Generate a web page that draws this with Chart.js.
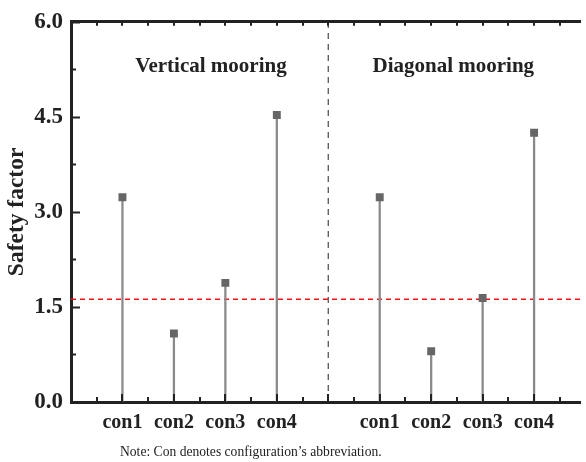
<!DOCTYPE html>
<html>
<head>
<meta charset="utf-8">
<script src="https://cdn.jsdelivr.net/npm/chart.js@4.4.1/dist/chart.umd.min.js"></script>
<style>
  html, body { margin: 0; padding: 0; background: #fff; }
  #wrap { width: 586px; height: 462px; }
</style>
</head>
<body>
<div id="wrap"><canvas id="sfChart" width="586" height="462"></canvas></div>
<script>
// configurations and their slot on the x axis
var configs = ['con1', 'con2', 'con3', 'con4'];
var verticalX = [1, 2, 3, 4];
var diagonalX = [6, 7, 8, 9];
// safety factor per configuration
var verticalSF = [3.23, 1.08, 1.88, 4.53];
var diagonalSF = [3.23, 0.80, 1.64, 4.25];
var threshold = 1.62;
var dividerX = 5;
var groupNames = ['Vertical mooring', 'Diagonal mooring'];
var note = 'Note: Con denotes configuration\u2019s abbreviation.';

var serif = "'Liberation Serif', 'Times New Roman', serif";
var ink = '#222';

var points = [];
var tickNames = {};
for (var i = 0; i < configs.length; i++) {
    points.push({x: verticalX[i], y: verticalSF[i]});
    tickNames[verticalX[i]] = configs[i];
}
for (var j = 0; j < configs.length; j++) {
    points.push({x: diagonalX[j], y: diagonalSF[j]});
    tickNames[diagonalX[j]] = configs[j];
}
var labelSlots = verticalX.concat(diagonalX);

// inner tick marks, group captions and the note under the axis
var decorations = {
    id: 'decorations',
    afterDraw: function(chart) {
        var ctx = chart.ctx;
        var x = chart.scales.x, y = chart.scales.y;
        var area = chart.chartArea;
        ctx.save();
        ctx.strokeStyle = ink;
        ctx.lineWidth = 2;
        ctx.beginPath();
        for (var v = 0; v <= 6.001; v += 0.75) {
            var py = Math.round(y.getPixelForValue(v)) + 0.5;
            var len = (Math.abs(v / 1.5 - Math.round(v / 1.5)) < 1e-6) ? 9 : 5;
            ctx.moveTo(area.left, py);
            ctx.lineTo(area.left + len, py);
        }
        for (var u = 0.5; u <= x.max; u += 0.5) {
            var px = Math.round(x.getPixelForValue(u));
            var l = (u % 1 === 0) ? 8 : 5;
            ctx.moveTo(px, area.bottom);
            ctx.lineTo(px, area.bottom - l);
            ctx.moveTo(px, area.top);
            ctx.lineTo(px, area.top + 4);
        }
        ctx.stroke();

        ctx.fillStyle = ink;
        ctx.textAlign = 'center';
        ctx.textBaseline = 'middle';
        ctx.font = 'bold 21px ' + serif;
        ctx.fillText(groupNames[0], x.getPixelForValue(2.72), y.getPixelForValue(5.3));
        ctx.fillText(groupNames[1], x.getPixelForValue(7.43), y.getPixelForValue(5.3));

        ctx.textAlign = 'left';
        ctx.font = '13.6px ' + serif;
        ctx.fillText(note, 120, 452);
        ctx.restore();
    }
};

var ctx = document.getElementById('sfChart').getContext('2d');
var chart = new Chart(ctx, {
    data: {
        datasets: [{
            // markers
            type: 'scatter',
            data: points,
            pointStyle: 'rect',
            pointRadius: 5.6,
            pointHoverRadius: 5.6,
            pointBackgroundColor: '#666',
            pointBorderWidth: 0,
            order: 0
        }, {
            // stems
            type: 'bar',
            data: points,
            backgroundColor: '#8a8a8a',
            barThickness: 1.6,
            grouped: false,
            order: 1
        }, {
            type: 'line',
            data: [{x: 0, y: threshold}, {x: 9.9, y: threshold}],
            borderColor: '#ff1010',
            borderWidth: 1.5,
            borderDash: [5, 4],
            pointRadius: 0,
            order: 2
        }, {
            type: 'line',
            data: [{x: dividerX, y: 0}, {x: dividerX, y: 6}],
            borderColor: '#555',
            borderWidth: 1.3,
            borderDash: [6, 5],
            pointRadius: 0,
            order: 3
        }]
    },
    options: {
        responsive: false,
        animation: false,
        layout: { padding: 0 },
        plugins: {
            legend: { display: false },
            tooltip: { enabled: false }
        },
        scales: {
            x: {
                type: 'linear',
                position: 'bottom',
                offset: false,
                min: 0,
                max: 9.9,
                grid: { display: false, drawTicks: false, offset: false },
                border: { display: true, width: 3, color: ink },
                ticks: {
                    autoSkip: false,
                    maxRotation: 0,
                    padding: 9,
                    color: ink,
                    font: { family: serif, size: 20, weight: 'bold' },
                    callback: function(v) { return tickNames[v] || ''; }
                },
                afterBuildTicks: function(scale) {
                    scale.ticks = labelSlots.map(function(v) { return {value: v}; });
                },
                afterFit: function(scale) { scale.height = 60; }
            },
            x2: {
                type: 'linear',
                position: 'top',
                offset: false,
                min: 0,
                max: 9.9,
                grid: { display: false, drawTicks: false },
                border: { display: true, width: 3, color: ink },
                ticks: { display: false },
                afterFit: function(scale) { scale.height = 19; }
            },
            y: {
                min: 0,
                max: 6,
                grid: { display: false, drawTicks: false },
                border: { display: true, width: 3, color: ink },
                ticks: {
                    stepSize: 0.75,
                    padding: 8,
                    color: ink,
                    font: { family: serif, size: 23, weight: 'bold' },
                    callback: function(v) {
                        return (Math.abs(v / 1.5 - Math.round(v / 1.5)) < 1e-6) ? v.toFixed(1) : '';
                    }
                },
                title: {
                    display: true,
                    text: 'Safety factor',
                    color: ink,
                    font: { family: serif, size: 23.5, weight: 'bold' },
                    padding: { top: 3, bottom: 0 }
                },
                afterFit: function(scale) { scale.width = 71; }
            }
        }
    },
    plugins: [decorations]
});
</script>
</body>
</html>
